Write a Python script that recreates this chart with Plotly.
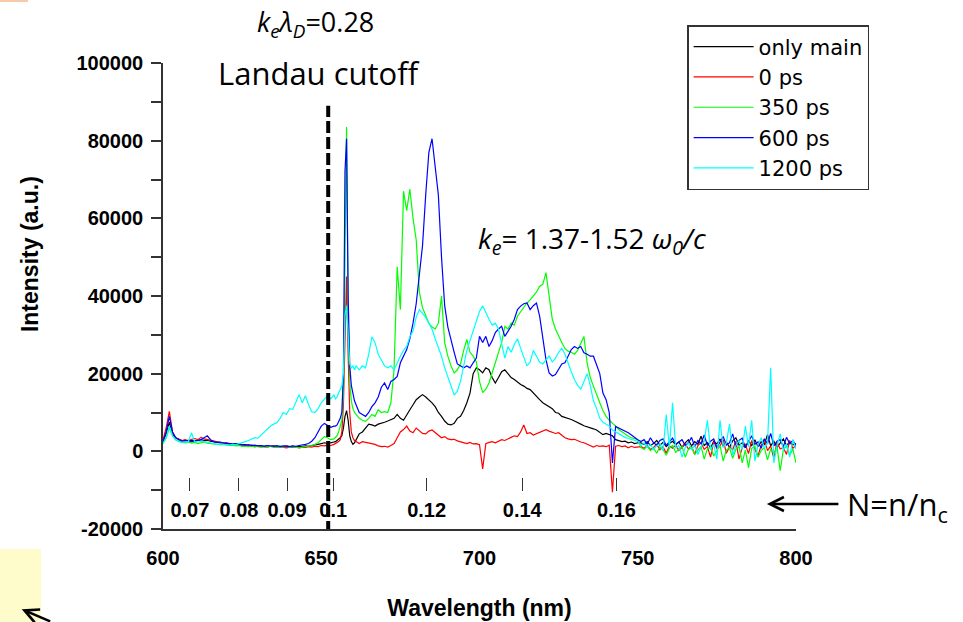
import plotly.graph_objects as go

# ---------------- data ----------------
# wavelength grid (nm)
wl = (list(range(600, 655))
      + [654.5, 655, 655.5, 656, 656.5, 657, 657.5, 658, 658.5, 659, 659.5, 660, 660.5, 661, 661.5, 662]
      + list(range(663, 801)))

# intensities in units of 1000 a.u.  (segments: 600-654, 654.5-662, 663-750, 751-800)
only_main = ([2.5, 4.5, 7.5, 4.5, 3.5, 3.0, 2.7, 2.8, 2.6, 2.9,
              2.7, 2.8, 3.0, 2.8, 2.9, 2.6, 2.4, 2.3, 2.2, 2.1,
              2.0, 1.9, 1.8, 1.9, 1.7, 1.6, 1.7, 1.5, 1.6, 1.4,
              1.5, 1.4, 1.3, 1.5, 1.3, 1.4, 1.2, 1.3, 1.2, 1.4,
              1.2, 1.3, 1.1, 1.3, 1.2, 1.4, 1.3, 1.5, 1.6, 1.8,
              2.0, 2.2, 2.0, 2.3, 2.4]
             + [2.5, 2.8, 3.0, 3.5, 4.0, 6.0, 9.0, 10.5, 8.0, 4.0, 2.5, 1.8, 2.2, 3.0, 3.8, 4.5]
             + [5.0, 6.0, 7.0, 6.8, 6.5, 7.0, 7.2, 7.5, 7.8, 8.2,
                8.5, 9.5, 8.5, 8.0, 9.5, 10.7, 12.0, 13.3, 14.0, 14.6,
                14.0, 13.3, 12.5, 11.5, 10.0, 9.0, 7.8, 7.0, 6.8, 7.2,
                8.5, 9.0, 10.5, 12.5, 15.0, 20.0, 21.5, 21.0, 20.2, 21.5,
                21.0, 19.0, 17.6, 19.0, 20.5, 21.0, 20.0, 19.0, 18.5, 17.8,
                17.2, 16.8, 16.2, 15.9, 15.0, 14.0, 13.3, 12.5, 12.0, 11.6,
                11.0, 10.0, 9.8, 9.0, 8.8, 8.5, 8.2, 7.8, 7.5, 7.0,
                6.6, 6.4, 6.0, 5.8, 5.5, 4.8, 4.3, 4.6, 4.2, 4.0,
                3.0, 2.8, 2.5, 2.6, 2.2, 2.4, 2.0, 2.2]
             + [2.2, 1.8, 2.5, 1.5, 2.0, 2.8, 1.6, 2.3, 1.2, 2.0,
                2.6, 1.7, 2.4, 1.0, 2.2, 3.0, 1.4, 2.5, 1.8, 3.9,
                1.5, 2.2, 0.8, 2.6, 1.9, 3.2, 1.3, 2.4, 1.0, 2.7,
                3.5, 1.6, 2.2, 0.9, 2.8, 1.5, 3.0, 1.2, 2.5, 1.8,
                4.3, 1.4, 2.6, 1.0, 2.2, 3.2, 1.5, 2.4, 1.7, 2.0])

ps_0 = ([3.0, 6.0, 10.3, 5.0, 3.5, 3.2, 2.8, 3.0, 2.7, 3.1,
         3.3, 3.0, 3.6, 3.2, 3.0, 2.8, 2.5, 2.4, 2.3, 2.1,
         2.2, 1.9, 1.8, 1.7, 1.6, 1.5, 1.4, 1.5, 1.3, 1.4,
         1.2, 1.3, 1.2, 1.1, 1.3, 1.2, 1.0, 1.2, 1.1, 0.9,
         1.1, 1.0, 1.2, 0.9, 1.1, 1.0, 1.2, 1.1, 1.3, 1.2,
         1.5, 1.4, 1.6, 1.5, 1.8]
        + [2.0, 2.2, 2.5, 3.0, 5.0, 12.0, 30.0, 45.0, 25.0, 10.0, 5.0, 3.5, 2.8, 2.5, 2.2, 2.0]
        + [2.5, 2.3, 2.2, 2.0, 1.8, 1.4, 1.2, 1.3, 1.1, 1.5,
           2.0, 3.5, 5.0, 5.6, 6.5, 5.2, 4.8, 6.0, 5.4, 4.6,
           4.5, 5.2, 5.5, 4.8, 4.0, 3.5, 3.8, 3.2, 3.0, 3.1,
           2.7, 2.4, 2.2, 2.0, 2.3, 1.9, 2.0, 1.7, -4.5, 2.0,
           2.3, 2.5, 2.2, 2.6, 3.0, 2.8, 3.3, 3.6, 4.0, 3.8,
           5.0, 6.8, 4.6, 4.8, 4.2, 4.6, 5.0, 5.3, 5.6, 5.2,
           4.9, 4.6, 4.8, 4.2, 3.5, 3.2, 3.0, 3.1, 2.7, 2.4,
           2.2, 1.8, 1.4, 1.1, 1.5, 1.3, 1.4, 1.2, 1.6, -10.5,
           1.3, 1.5, 1.2, 1.4, 0.9, 1.3, 1.0, 1.1]
        + [1.2, 0.8, 1.5, 0.5, 1.0, 1.8, 0.4, 1.2, -0.5, 1.4,
           0.8, 1.6, 0.2, 1.0, 2.0, 0.6, 1.3, -0.8, 1.5, 2.2,
           0.5, 1.2, -1.5, 2.5, 0.7, 1.4, 3.0, -0.5, 1.2, 0.4,
           2.6, -2.0, 1.0, 1.8, -0.6, 2.8, 0.5, -1.2, 1.6, 3.2,
           0.2, 1.4, -1.8, 2.4, 0.6, 1.0, -0.8, 2.8, 0.8, 1.5])

ps_350 = ([2.0, 3.5, 6.0, 4.0, 3.0, 2.6, 2.3, 2.2, 2.4, 2.1,
           2.3, 2.0, 2.2, 2.4, 2.1, 2.0, 1.9, 1.8, 1.7, 1.8,
           1.6, 1.5, 1.6, 1.4, 1.5, 1.3, 1.4, 1.2, 1.4, 1.1,
           1.3, 1.0, 1.2, 1.1, 1.3, 1.2, 1.0, 1.2, 1.1, 1.3,
           1.0, 1.2, 1.1, 0.9, 1.1, 1.2, 1.3, 1.5, 1.8, 2.2,
           3.0, 3.8, 3.5, 3.0, 3.2]
          + [3.5, 4.0, 5.0, 6.5, 8.0, 15.0, 55.0, 83.5, 35.0, 18.0, 13.0, 11.0, 10.0, 9.5, 9.0, 8.5]
          + [8.0, 7.7, 8.5, 9.5, 9.0, 10.7, 10.0, 10.2, 10.0, 12.5,
             21.0, 47.5, 36.5, 67.0, 62.0, 67.5, 60.0, 54.5, 41.0, 37.0,
             35.0, 33.0, 32.0, 31.5, 33.0, 40.0, 28.0, 24.5, 22.0, 20.2,
             21.0, 22.5, 26.0, 28.8, 25.5, 24.5, 23.0, 18.0, 15.1, 16.0,
             17.6, 20.0, 22.8, 25.5, 28.0, 32.2, 31.5, 33.0, 32.5, 34.8,
             36.0, 37.0, 38.2, 39.0, 40.0, 41.0, 42.5, 43.0, 46.0, 40.0,
             34.0, 31.5, 29.5, 28.0, 26.5, 25.8, 25.5, 25.0, 26.0, 28.0,
             29.6, 22.8, 19.0, 16.8, 14.5, 12.5, 10.5, 9.0, 8.0, 7.3,
             6.5, 5.6, 5.0, 4.4, 3.9, 3.5, 3.2, 3.0]
          + [1.0, 0.5, 1.4, 0.2, 0.8, -0.5, 1.2, 0.4, -1.0, 0.8,
             1.5, -0.3, 0.6, 1.2, -1.5, 0.5, 1.0, -0.8, 0.3, 1.3,
             -2.0, 0.6, 1.0, -1.2, 0.2, 1.5, -2.5, 0.4, 0.9, -1.8,
             0.5, 1.2, -3.0, 0.3, -4.2, 0.8, 1.4, -1.5, 0.2, 1.0,
             -2.2, 0.6, -0.5, 1.2, -5.0, 0.4, 1.5, -1.0, 0.6, -3.0])

ps_600 = ([2.5, 5.0, 9.0, 5.0, 3.5, 3.0, 2.6, 2.7, 2.8, 2.5,
           2.6, 2.8, 3.0, 3.6, 4.0, 3.0, 2.5, 2.3, 2.4, 2.2,
           2.1, 2.0, 1.9, 2.0, 1.8, 1.7, 1.6, 1.7, 1.5, 1.6,
           1.4, 1.5, 1.3, 1.5, 1.4, 1.3, 1.5, 1.2, 1.4, 1.3,
           1.2, 1.4, 1.3, 1.5, 1.6, 1.8, 2.0, 2.6, 3.5, 5.0,
           6.5, 7.2, 6.8, 6.2, 6.5]
          + [6.5, 6.8, 7.5, 8.5, 10.0, 20.0, 72.0, 80.5, 40.0, 22.0, 17.0, 15.0, 13.0, 12.0, 11.0, 10.0]
          + [9.5, 9.0, 10.0, 11.5, 12.5, 14.0, 16.5, 17.6, 15.9, 18.0,
             18.5, 19.3, 22.8, 24.5, 26.2, 29.0, 33.0, 38.0, 45.0, 53.0,
             66.0, 77.0, 80.5, 74.0, 66.0, 50.0, 37.5, 32.0, 28.5, 25.5,
             22.5, 21.9, 21.5, 22.0, 21.5, 22.8, 24.0, 29.6, 28.0, 29.6,
             27.0, 28.5, 30.6, 31.5, 32.2, 29.6, 31.0, 32.2, 34.0, 36.5,
             37.4, 38.0, 38.2, 36.5, 37.5, 38.2, 34.8, 29.6, 23.6, 20.2,
             19.4, 19.8, 21.0, 22.5, 22.8, 24.5, 26.2, 27.0, 26.5, 27.0,
             25.4, 25.0, 24.5, 24.5, 22.0, 20.0, 15.0, 13.3, 10.0, -3.0,
             6.4, 6.0, 5.8, 5.2, 4.8, 4.2, 3.5, 3.0]
          + [2.5, 3.0, 1.8, 3.5, 2.2, 1.6, 2.8, 3.2, 1.5, 2.6,
             3.4, 1.8, 2.4, 3.0, 1.5, 2.2, 3.6, 1.2, 2.8, 2.0,
             4.2, 1.5, 2.6, 3.2, 1.0, 2.4, 3.8, 1.6, 2.2, 4.5,
             1.2, 2.8, 3.4, 1.0, 2.5, 4.0, 1.8, 2.4, 0.8, 3.2,
             2.0, 4.6, 1.4, 2.6, 3.0, 1.2, 3.6, 2.0, 2.8, 1.5])

ps_1200 = ([2.0, 3.5, 6.5, 4.0, 3.0, 2.5, 2.3, 2.4, 2.5, 4.8,
            2.5, 2.4, 2.6, 2.5, 2.4, 2.2, 2.0, 1.8, 1.9, 1.8,
            1.7, 1.6, 1.8, 1.7, 2.0, 2.2, 2.5, 2.8, 3.2, 3.5,
            3.4, 4.2, 5.0, 5.6, 6.5, 7.0, 7.4, 8.5, 10.0, 9.5,
            11.0, 10.8, 12.5, 14.6, 12.5, 14.3, 12.0, 10.2, 10.0, 11.0,
            12.5, 13.5, 14.4, 13.5, 14.5]
           + [13.5, 14.0, 15.0, 16.0, 16.8, 20.0, 35.0, 37.5, 28.0, 22.5, 21.5, 22.0, 21.0, 22.0, 21.5, 21.0]
           + [22.0, 21.5, 25.0, 29.5, 28.0, 25.0, 23.5, 22.0, 21.5, 22.0,
              21.0, 23.0, 24.5, 26.0, 27.0, 29.5, 31.0, 34.5, 36.5, 35.5,
              34.5, 33.0, 31.5, 29.0, 27.0, 24.5, 21.5, 19.0, 17.0, 14.5,
              15.5, 18.0, 22.0, 26.0, 28.5, 31.0, 34.0, 36.0, 37.5, 35.5,
              34.0, 32.5, 33.0, 31.5, 28.0, 24.0, 27.0, 25.5, 27.5, 29.0,
              26.5, 24.0, 22.0, 23.0, 26.0, 24.5, 23.0, 22.5, 23.5, 24.5,
              23.0, 24.0, 25.5, 26.5, 25.0, 22.5, 20.5, 18.5, 17.0, 16.0,
              18.0, 20.0, 17.0, 13.0, 11.0, 8.5, 7.5, 7.0, 6.5, 5.5,
              5.0, 4.5, 4.0, 3.6, 3.3, 3.0, 2.8, 2.6]
           + [1.5, 2.2, 1.0, 1.8, 0.5, 1.4, 2.0, 0.2, 9.5, 1.0,
              12.5, 0.8, 1.5, -1.5, 1.0, 2.2, 0.4, 1.6, -0.8, 1.2,
              2.5, 8.0, 0.5, 1.8, -2.0, 8.0, 1.0, 2.2, 7.0, -1.0,
              1.5, 2.8, 0.4, 6.5, 1.2, 8.0, -2.5, 1.6, 3.5, 0.8,
              2.0, 21.5, -3.0, 1.4, 4.5, 0.2, 2.0, -1.5, 3.0, 0.6])

series_names = ["only main", "0 ps", "350 ps", "600 ps", "1200 ps"]
series_values = [only_main, ps_0, ps_350, ps_600, ps_1200]
series_colors = ["#000000", "#ff0000", "#00ff00", "#0000ff", "#00ffff"]

for v in series_values:
    assert len(v) == len(wl), (len(v), len(wl))

# axis ticks
x_ticks = [600, 650, 700, 750, 800]
x_labels = ["600", "650", "700", "750", "800"]
y_ticks = [-20000, 0, 20000, 40000, 60000, 80000, 100000]
y_labels = ["-20000", "0", "20000", "40000", "60000", "80000", "100000"]
y_minor = [-10000, 10000, 30000, 50000, 70000, 90000]

# density scale N = n/n_c, placed at the corresponding wavelength
n_wavelength = [608.5, 624.0, 639.2, 653.8, 683.3, 713.5, 743.3]
n_labels = ["0.07", "0.08", "0.09", "0.1", "0.12", "0.14", "0.16"]

landau_cutoff_wl = 652.2

# ---------------- figure ----------------
fig = go.Figure()
for name, vals, col in zip(series_names, series_values, series_colors):
    fig.add_trace(go.Scatter(x=wl, y=[v * 1000 for v in vals], mode="lines", name=name,
                             line=dict(color=col, width=1.2)))

fig.add_trace(go.Scatter(x=n_wavelength, y=[None] * len(n_wavelength), xaxis="x2",
                         showlegend=False, hoverinfo="skip", mode="lines"))

bold = dict(family="Liberation Sans", size=20, color="black", weight="bold")
title_font = dict(family="Liberation Sans", size=23, color="black", weight="bold")
axcol = "#333333"

fig.update_layout(
    width=963, height=622,
    margin=dict(l=163, r=167, t=63, b=93, autoexpand=False),
    paper_bgcolor="white", plot_bgcolor="white",
    showlegend=True,
    xaxis=dict(range=[600, 800], tickmode="array", tickvals=x_ticks, ticktext=x_labels,
               ticks="", showline=True, linecolor=axcol, linewidth=1.5, automargin=False,
               showgrid=False, zeroline=False, tickfont=bold, ticklabelstandoff=10,
               title=dict(text="Wavelength (nm)", font=title_font, standoff=32)),
    xaxis2=dict(overlaying="x", anchor="free", position=0.1116, side="bottom",
                range=[600, 800], tickmode="array", tickvals=n_wavelength, ticktext=n_labels,
                ticks="outside", ticklen=13, tickwidth=1.3, tickcolor=axcol, automargin=False,
                showline=False, showgrid=False, zeroline=False, tickfont=bold,
                ticklabelstandoff=2),
    yaxis=dict(range=[-20000, 100000], tickmode="array", tickvals=y_ticks, ticktext=y_labels,
               ticks="outside", ticklen=10, tickwidth=1.5, tickcolor=axcol, automargin=False,
               minor=dict(tickmode="array", tickvals=y_minor, ticks="outside", ticklen=10,
                          tickwidth=1.5, tickcolor=axcol, showgrid=False),
               showline=True, linecolor=axcol, linewidth=1.5,
               showgrid=False, zeroline=False, tickfont=bold, ticklabelstandoff=4),
    legend=dict(x=0.828, y=1.0815, xanchor="left", yanchor="top",
                bordercolor=axcol, borderwidth=1.5, bgcolor="white",
                font=dict(family="DejaVu Sans", size=21, color="black"),
                itemwidth=60, tracegroupgap=0),
)

# y-axis title (placed higher than the plot centre, as in the original)
fig.add_annotation(xref="paper", yref="paper", x=-0.2101, y=0.59, showarrow=False,
                   xanchor="center", yanchor="middle", textangle=-90,
                   text="Intensity (a.u.)", font=title_font)

# Landau cutoff dashed line
fig.add_shape(type="line", xref="x", yref="y", x0=landau_cutoff_wl, x1=landau_cutoff_wl,
              y0=-21000, y1=89000, line=dict(color="black", width=4, dash="12px,4px"),
              layer="above")

# decorative slide fragments
fig.add_shape(type="rect", xref="paper", yref="paper", x0=-0.2575, x1=-0.1927, y0=-0.2, y1=-0.0429,
              fillcolor="#fffccc", line=dict(width=0), layer="below")
fig.add_shape(type="rect", xref="paper", yref="paper", x0=-0.2575, x1=-0.2133, y0=1.1309, y1=1.14,
              fillcolor="#f8cbad", line=dict(width=0), layer="below")

ann_font = "Open Sans"
fig.add_annotation(xref="paper", yref="paper", x=0.2417, y=1.0837, showarrow=False,
                   xanchor="center", yanchor="middle",
                   text="<i>k</i><sub><i>e</i></sub><i>λ</i><sub><i>D</i></sub>=0.28",
                   font=dict(family=ann_font, size=27, color="black"))
fig.add_annotation(xref="paper", yref="paper", x=0.2464, y=0.9785, showarrow=False,
                   xanchor="center", yanchor="middle",
                   text="Landau cutoff", font=dict(family=ann_font, size=31, color="black"))
fig.add_annotation(xref="paper", yref="paper", x=0.677, y=0.62, showarrow=False,
                   xanchor="center", yanchor="middle",
                   text="<i>k</i><sub><i>e</i></sub>= 1.37-1.52 <i>ω</i><sub><i>0</i></sub><i>/c</i>",
                   font=dict(family=ann_font, size=28, color="black"))
fig.add_annotation(xref="paper", yref="paper", x=1.161, y=0.049, showarrow=False,
                   xanchor="center", yanchor="middle",
                   text="N=n/n<sub>c</sub>", font=dict(family=ann_font, size=31, color="black"))
# arrow pointing to the N axis
fig.add_annotation(xref="paper", yref="paper", x=0.954, y=0.0536, text="", showarrow=True,
                   ax=73, ay=0, arrowhead=5, arrowsize=1.1, arrowwidth=2.5, arrowcolor="black")
# partial arrow at bottom-left corner
fig.add_annotation(xref="paper", yref="paper", x=-0.2232, y=-0.1723, text="", showarrow=True,
                   ax=30, ay=18, arrowhead=5, arrowsize=1.1, arrowwidth=2.5, arrowcolor="black")

fig.write_html("out.html")
